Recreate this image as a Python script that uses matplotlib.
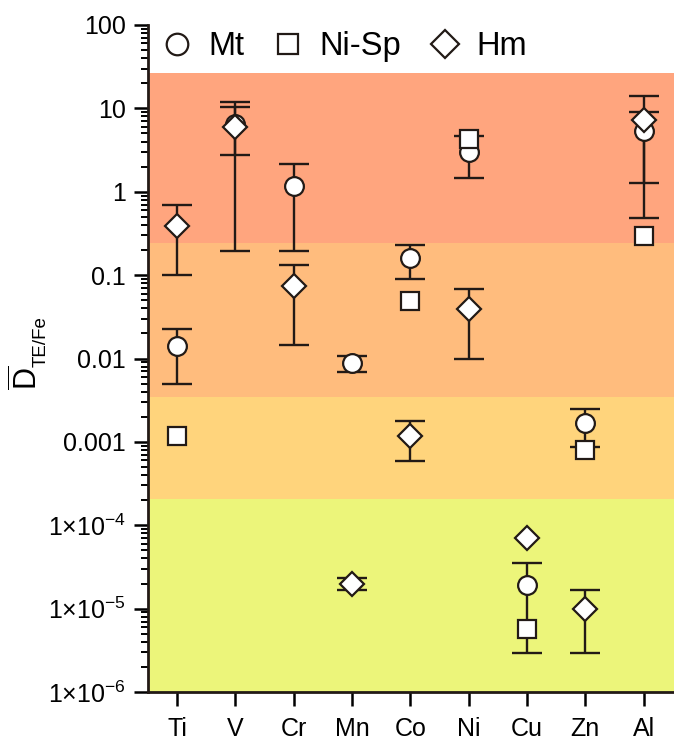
import numpy as np
import matplotlib
matplotlib.use("Agg")
import matplotlib.pyplot as plt
from matplotlib.ticker import LogLocator, NullFormatter

plt.rcParams['font.family'] = ['Liberation Sans', 'DejaVu Sans']
plt.rcParams['mathtext.fontset'] = 'custom'
plt.rcParams['mathtext.rm'] = 'Liberation Sans'
plt.rcParams['mathtext.it'] = 'Liberation Sans:italic'
plt.rcParams['mathtext.bf'] = 'Liberation Sans:bold'

nan = np.nan
elements = ['Ti', 'V', 'Cr', 'Mn', 'Co', 'Ni', 'Cu', 'Zn', 'Al']

mt_val = [0.014, 6.5, 1.17, 0.0088, 0.16, 3.0, 1.9e-5, 0.0017, 5.3]
mt_lo = [0.0049, 2.76, 0.197, 0.0068, 0.089, 1.48, 2.95e-6, 0.00088, 0.49]
mt_hi = [0.0226, 11.8, 2.17, 0.0107, 0.228, 4.6, 3.5e-5, 0.0025, 9.1]

nisp_val = [0.00118, nan, nan, nan, 0.0496, 4.3, 5.7e-6, 0.00079, 0.295]

hm_val = [0.39, 6.0, 0.074, 1.98e-5, 0.00118, 0.039, 7.1e-5, 9.9e-6, 7.3]
hm_lo = [0.099, 0.197, 0.0147, 1.68e-5, 0.00059, 0.0099, nan, 2.95e-6, 1.29]
hm_hi = [0.70, 10.3, 0.134, 2.32e-5, 0.00179, 0.069, nan, 1.68e-5, 14.2]

band_edges = [1e-6, 2.06e-4, 0.00349, 0.243, 26.8]
band_colors = ['#ECF57A', '#FFD47C', '#FFBC7D', '#FFA57E']

ytick_vals = [1e-6, 1e-5, 1e-4, 1e-3, 1e-2, 1e-1, 1, 10, 100]
ytick_labels = [r'$1{\times}10^{-6}$', r'$1{\times}10^{-5}$', r'$1{\times}10^{-4}$',
                '0.001', '0.01', '0.1', '1', '10', '100']

W, H = 674, 740
fig = plt.figure(figsize=(W / 100, H / 100), dpi=100)
ax = fig.add_axes([148/W, 48/H, 526/W, 667/H])
ax.set_yscale('log')
ax.set_ylim(1e-6, 100)
ax.set_xlim(0.5, 9.52)

for i, c in enumerate(band_colors):
    ax.axhspan(band_edges[i], band_edges[i+1], color=c, lw=0, zorder=0)

x = np.arange(1, len(elements) + 1)
ecol = '#221a16'

mt_v = np.array(mt_val); mt_l = np.array(mt_lo); mt_h = np.array(mt_hi)
hm_v = np.array(hm_val); hm_l = np.array(hm_lo); hm_h = np.array(hm_hi)

ax.errorbar(x, mt_v, yerr=[mt_v - mt_l, mt_h - mt_v], fmt='none', ecolor=ecol,
            elinewidth=1.7, capsize=11, capthick=1.7, zorder=2)
m = ~np.isnan(hm_l)
ax.errorbar(x[m], hm_v[m], yerr=[hm_v[m] - hm_l[m], hm_h[m] - hm_v[m]], fmt='none',
            ecolor=ecol, elinewidth=1.7, capsize=11, capthick=1.7, zorder=2)

mk = dict(linestyle='none', markerfacecolor='white', markeredgecolor=ecol, markeredgewidth=1.6)
ax.plot(x, mt_v, marker='o', markersize=13.5, label='Mt', zorder=3, **mk)
ax.plot(x, nisp_val, marker='s', markersize=12.5, label='Ni-Sp', zorder=4, **mk)
ax.plot(x, hm_v, marker='D', markersize=12, label='Hm', zorder=5, **mk)

ax.set_xticks(x)
ax.set_xticklabels(elements, fontsize=18)
ax.set_yticks(ytick_vals)
ax.set_yticklabels(ytick_labels, fontsize=18)
ax.yaxis.set_minor_locator(LogLocator(base=10, subs=np.arange(2, 10), numticks=20))
ax.yaxis.set_minor_formatter(NullFormatter())

ax.tick_params(axis='x', which='major', direction='out', length=10, width=1.8, pad=8)
ax.tick_params(axis='y', which='major', direction='out', length=10, width=1.8, pad=6)
ax.tick_params(axis='y', which='minor', direction='out', length=5, width=1.4)

for s in ['top', 'right']:
    ax.spines[s].set_visible(False)
for s in ['left', 'bottom']:
    ax.spines[s].set_linewidth(2)
    ax.spines[s].set_color(ecol)

# y-axis label: D with overline, subscript TE/Fe (rotated)
fig.text(28 / W, 1 - 378 / H, r'$\overline{\mathrm{D}}$', rotation=90, fontsize=22,
         ha='center', va='center')
fig.text(41 / W, 1 - 342 / H, 'TE/Fe', rotation=90, fontsize=13.5,
         ha='center', va='center')

leg = ax.legend(loc='upper left', bbox_to_anchor=(0.0, 1.01), ncol=3, frameon=False,
                fontsize=23.5, handlelength=1.0, handletextpad=0.45, columnspacing=0.85,
                markerscale=1.15, borderaxespad=0.0)

fig.savefig('out.png', dpi=100)
